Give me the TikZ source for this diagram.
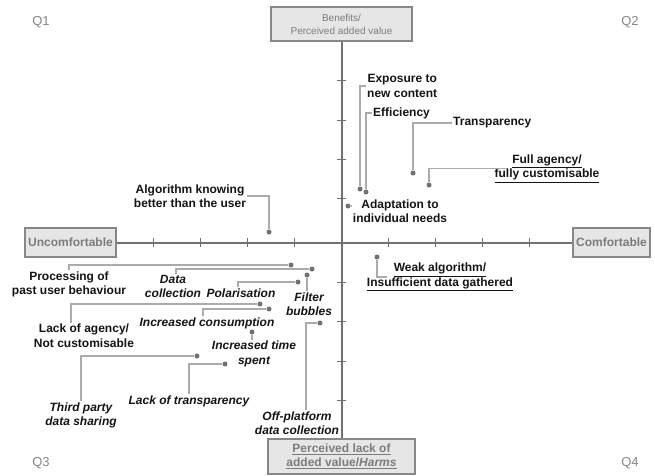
\documentclass[tikz,border=0pt]{standalone}
\usepackage{fontspec}
\setmainfont{Liberation Sans}
\usetikzlibrary{positioning}

\definecolor{axisgray}{HTML}{717171}
\definecolor{leadgray}{HTML}{ABABAB}
\definecolor{boxfill}{HTML}{E6E6E6}
\definecolor{boxline}{HTML}{878787}
\definecolor{boxtext}{HTML}{7C7C7C}

\tikzset{
  axisline/.style = {axisgray, line width=2pt},
  axistick/.style = {axisgray, line width=1pt},
  endbox/.style   = {draw=boxline, line width=1.3pt, fill=boxfill, text=boxtext,
                     font=\bfseries\fontsize{12}{14}\selectfont, align=center, inner sep=0pt},
  dot/.style      = {circle, fill=axisgray, inner sep=0pt, minimum size=5pt},
  lead/.style     = {leadgray, line width=1.1pt},
  lbl/.style      = {font=\bfseries\fontsize{12}{14.5}\selectfont, align=center, inner sep=1pt, text=black!92},
  ilbl/.style     = {lbl, font=\bfseries\itshape\fontsize{12}{14.5}\selectfont},
  quad/.style     = {text=axisgray!85, font=\fontsize{13}{15}\selectfont}
}

\begin{document}
\begin{tikzpicture}[x=1pt, y=-1pt]
      \useasboundingbox (0,0) rectangle (655,475);

      % Quadrant names
      \node[quad] (q1) at (41, 22)  {Q1};
      \node[quad] (q2) at (630,22)  {Q2};
      \node[quad] (q3) at (41, 463) {Q3};
      \node[quad] (q4) at (630,463) {Q4};

      % Ends of the axes
      \node[endbox, minimum width=141pt, minimum height=34pt,
            font=\fontsize{10}{13}\selectfont]    (benefit) at (341.5,24)  {Benefits/\\Perceived added value};
      \node[endbox, minimum width=147pt, minimum height=35pt] (harm)  at (341.5,456.5)
            {\underline{Perceived lack of}\\\underline{added value/\textit{Harms}}};
      \node[endbox, minimum width=91pt, minimum height=29pt]  (uncomf) at (70.5,242.5)  {Uncomfortable};
      \node[endbox, minimum width=77pt, minimum height=29pt]  (comf)   at (611.5,242.5) {Comfortable};

      % Axes
      \draw[axisline] (benefit.south) -- (harm.north);   % y axis
      \draw[axisline] (uncomf.east)   -- (comf.west);    % x axis
      \foreach \k in {1,...,4} {
        \draw[axistick] (341-47*\k,238) -- (341-47*\k,247);
        \draw[axistick] (341+47*\k,238) -- (341+47*\k,247);
      }
      \foreach \y in {80.5,120,159,198,282,321,361,400}
        \draw[axistick] (337,\y) -- (346,\y);

      % Points on the map
      \node[dot] (d-expo)   at (360,189) {};
      \node[dot] (d-eff)    at (366,192) {};
      \node[dot] (d-trans)  at (413,173) {};
      \node[dot] (d-full)   at (429,185) {};
      \node[dot] (d-adapt)  at (348,206) {};
      \node[dot] (d-algo)   at (269,232) {};
      \node[dot] (d-weak)   at (377,257) {};
      \node[dot] (d-proc)   at (291,265) {};
      \node[dot] (d-data)   at (312,269) {};
      \node[dot] (d-filt)   at (307,275) {};
      \node[dot] (d-pol)    at (298,282) {};
      \node[dot] (d-agency) at (260,304) {};
      \node[dot] (d-cons)   at (269,309) {};
      \node[dot] (d-off)    at (320,323) {};
      \node[dot] (d-time)   at (252,332) {};
      \node[dot] (d-third)  at (197,356) {};
      \node[dot] (d-lot)    at (225,364) {};

      % Labels
      \node[lbl, anchor=west] (l-expo)  at (366,86)  {Exposure to\\new content};
      \node[lbl, anchor=west] (l-eff)   at (372,113) {Efficiency};
      \node[lbl, anchor=west] (l-trans) at (452,123) {Transparency};
      \node[lbl] (l-full)   at (547,168.5) {\underline{Full agency/}\\\underline{fully customisable}};
      \node[lbl] (l-adapt)  at (400,211)   {Adaptation to\\individual needs};
      \node[lbl] (l-algo)   at (190,196)   {Algorithm knowing\\better than the user};
      \node[lbl] (l-weak)   at (440,277)   {\underline{Weak algorithm/}\\\underline{Insufficient data gathered}};
      \node[lbl] (l-proc)   at (69,284.5)  {Processing of\\past user behaviour};
      \node[ilbl] (l-data)  at (173,286.5) {Data\\collection};
      \node[ilbl] (l-pol)   at (241,293)   {Polarisation};
      \node[ilbl] (l-filt)  at (309,304)   {Filter\\bubbles};
      \node[lbl] (l-agency) at (84,335.5)  {Lack of agency/\\Not customisable};
      \node[ilbl] (l-cons)  at (207,323)   {Increased consumption};
      \node[ilbl] (l-time)  at (254,354)   {Increased time\\spent};
      \node[ilbl] (l-third) at (81,415.5)  {Third party\\data sharing};
      \node[ilbl] (l-lot)   at (189,401)   {Lack of transparency};
      \node[ilbl] (l-off)   at (297,423)   {Off-platform\\data collection};

      % Leader lines
      \draw[lead] (d-expo)  |- (l-expo.west);
      \draw[lead] (d-eff)   |- (l-eff.west);
      \draw[lead] (d-trans) |- (l-trans.west);
      \draw[lead] (d-full)  |- ([xshift=13pt]l-full.west);
      \draw[lead] (d-adapt) -- (d-adapt -| l-adapt.west);
      \draw[lead] (l-algo.east) -| (d-algo);
      \draw[lead] (d-weak)  |- ([xshift=21pt]l-weak.west);
      \draw[lead] (l-proc.north) |- (d-proc);
      \draw[lead] ([xshift=3pt]l-data.north) |- (d-data);
      \draw[lead] ([xshift=-3pt]l-pol.north) |- (d-pol);
      \draw[lead] (d-filt) -- (d-filt |- l-filt.north);
      \draw[lead] ([xshift=-13pt]l-agency.north) |- (d-agency);
      \draw[lead] ([xshift=-4pt]l-cons.north) |- (d-cons);
      \draw[lead] (d-time) -- (d-time |- l-time.north);
      \draw[lead] (l-third.north) |- (d-third);
      \draw[lead] (l-lot.north) |- (d-lot);
      \draw[lead] ([xshift=9pt]l-off.north) |- (d-off);
\end{tikzpicture}
\end{document}
